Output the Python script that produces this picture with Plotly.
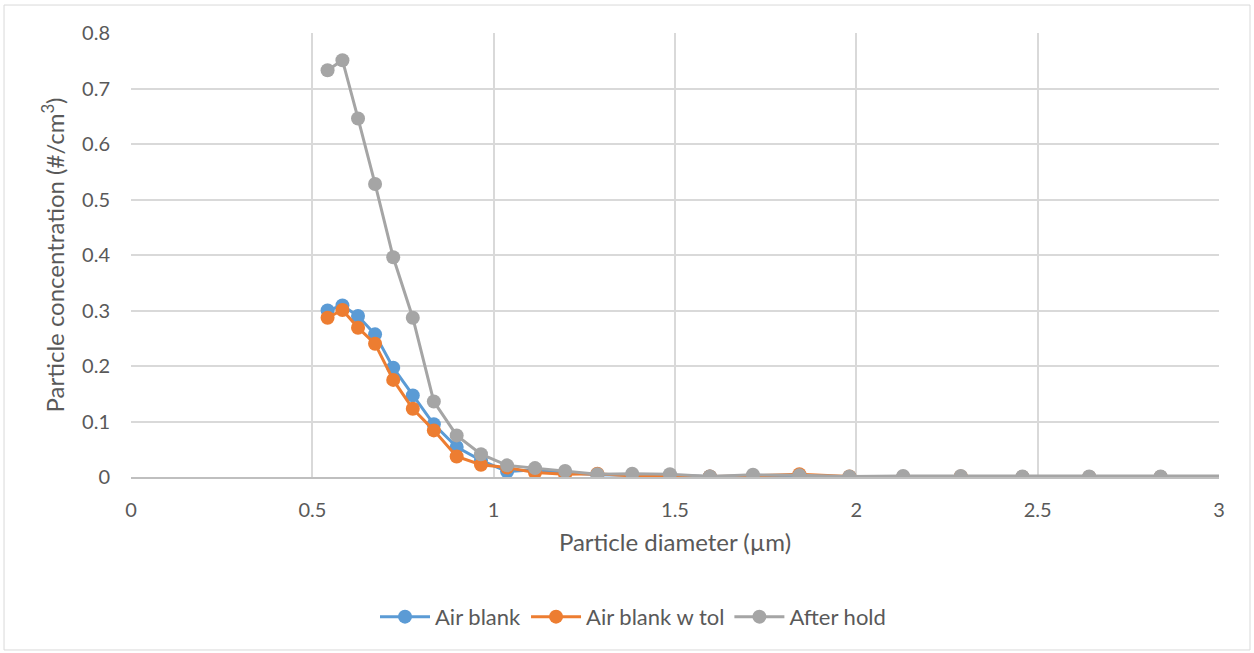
import plotly.graph_objects as go

# Particle size bins (aerodynamic diameter, µm)
diameter = [0.542, 0.583, 0.626, 0.673, 0.723, 0.777, 0.835, 0.898, 0.965, 1.037,
            1.114, 1.197, 1.286, 1.382, 1.486, 1.596, 1.715, 1.843, 1.981, 2.129,
            2.288, 2.458, 2.642, 2.839, 3.051]

air_blank = [0.300, 0.309, 0.290, 0.257, 0.197, 0.147, 0.095, 0.054, 0.030, 0.010,
             0.013, 0.008, 0.004, 0.003, 0.003, 0.001, 0.002, 0.000, 0.000, 0.000,
             0.000, 0.000, 0.000, 0.000, 0.000]

air_blank_tol = [0.287, 0.301, 0.269, 0.240, 0.175, 0.123, 0.084, 0.037, 0.022, 0.017,
                 0.008, 0.005, 0.006, 0.002, 0.002, 0.001, 0.002, 0.005, 0.001, 0.000,
                 0.001, 0.000, 0.000, 0.000, 0.000]

after_hold = [0.733, 0.751, 0.646, 0.528, 0.396, 0.287, 0.136, 0.075, 0.041, 0.021,
              0.016, 0.011, 0.005, 0.006, 0.005, 0.001, 0.004, 0.003, 0.001, 0.002,
              0.002, 0.001, 0.001, 0.001, 0.002]

series = [
    ("Air blank", air_blank, "#5B9BD5"),
    ("Air blank w tol", air_blank_tol, "#ED7D31"),
    ("After hold", after_hold, "#A5A5A5"),
]

FONT = "Lato, 'Open Sans', sans-serif"
TXT = "#595959"
GRID = "#D9D9D9"

fig = go.Figure()
for name, vals, color in series:
    fig.add_trace(go.Scatter(
        x=diameter, y=vals, name=name, mode="lines+markers",
        line=dict(color=color, width=3),
        marker=dict(color=color, size=14),
    ))

fig.update_layout(
    width=1254, height=653,
    margin=dict(l=131, r=35, t=33, b=176),
    paper_bgcolor="white", plot_bgcolor="white",
    font=dict(family=FONT, color=TXT, size=20),
    showlegend=True,
    legend=dict(orientation="h", x=0.4614, xanchor="center", y=-0.315, yanchor="middle",
                font=dict(size=22, color=TXT), itemwidth=50, tracegroupgap=0),
    shapes=[dict(type="rect", xref="paper", yref="paper",
                 x0=-0.1167, x1=1.0285, y0=-0.3896, y1=1.063,
                 line=dict(color=GRID, width=1), layer="below")],
)

fig.update_xaxes(
    range=[0, 3], dtick=0.5, tick0=0,
    showgrid=True, gridcolor=GRID, gridwidth=1.5,
    zeroline=False, showline=True, linecolor="#BFBFBF", linewidth=1.5,
    ticks="", ticklabelstandoff=14,
    tickfont=dict(size=20, color=TXT),
    title=dict(text="Particle diameter (µm)", font=dict(size=24, color=TXT), standoff=14),
)
fig.update_yaxes(
    range=[0, 0.8], dtick=0.1, tick0=0,
    showgrid=True, gridcolor=GRID, gridwidth=1.5,
    zeroline=False, showline=False,
    ticks="", ticklabelstandoff=20,
    tickfont=dict(size=20, color=TXT),
    title=dict(text="Particle concentration (#/cm<sup>3</sup>)", font=dict(size=24, color=TXT), standoff=10),
)

fig.write_html("out.html")
